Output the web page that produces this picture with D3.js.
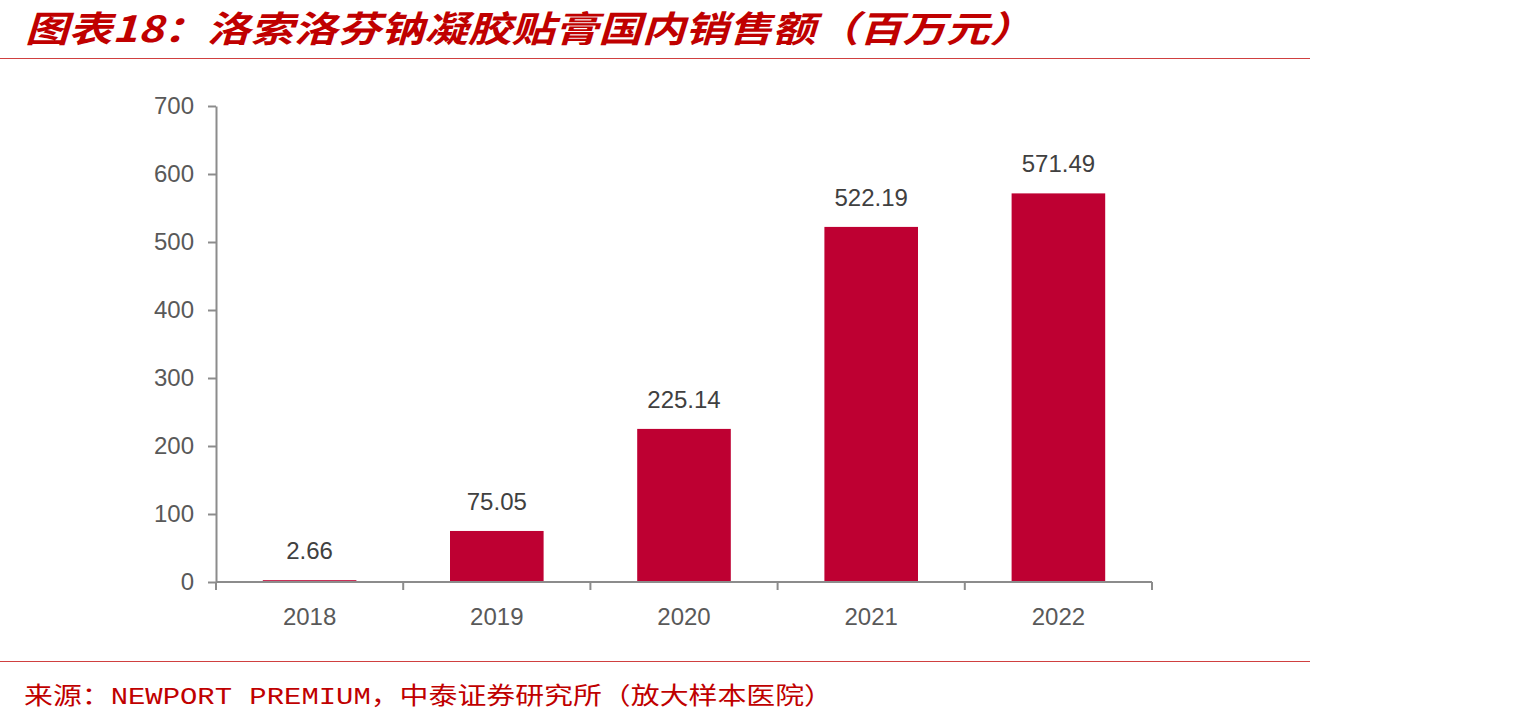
<!DOCTYPE html>
<html><head><meta charset="utf-8">
<script src="https://cdn.jsdelivr.net/npm/d3@7"></script>
<style>body{margin:0;background:#fff;} svg{display:block;}</style>
</head><body>
<svg id="c" width="1535" height="726"></svg>
<script>
const categories = ["2018","2019","2020","2021","2022"];
const values = [2.66, 75.05, 225.14, 522.19, 571.49];
const valueLabels = ["2.66","75.05","225.14","522.19","571.49"];
const yTicks = [0,100,200,300,400,500,600,700];
const titleText = "图表18：洛索洛芬钠凝胶贴膏国内销售额（百万元）";
const sourceText = "来源：NEWPORT PREMIUM，中泰证券研究所（放大样本医院）";

const svg = d3.select("#c");
const red = "#C00000";
const barColor = "#BE0032";
const axisColor = "#8C8C8C";
const numFont = "'Liberation Sans', Arial, sans-serif";
const cjkFont = "'Noto Sans CJK SC', sans-serif";

// Title
svg.append("text").attr("x", 25).attr("y", 42)
  .attr("font-family", cjkFont).attr("font-size", 36).attr("font-weight", "bold")
  .attr("font-style", "italic").attr("fill", red)
  .attr("textLength", 1008).attr("lengthAdjust", "spacingAndGlyphs")
  .text(titleText);
svg.append("line").attr("x1", 0).attr("x2", 1310).attr("y1", 58.5).attr("y2", 58.5)
  .attr("stroke", "#D04040").attr("stroke-width", 1.2);
svg.append("line").attr("x1", 0).attr("x2", 1310).attr("y1", 661.5).attr("y2", 661.5)
  .attr("stroke", "#D04040").attr("stroke-width", 1.2);
svg.append("text").attr("x", 24).attr("y", 704)
  .attr("font-family", "'Liberation Mono', " + cjkFont).attr("font-size", 24).attr("fill", red)
  .attr("textLength", 809).attr("lengthAdjust", "spacingAndGlyphs")
  .text(sourceText);

const x = d3.scaleBand().domain(categories).range([216, 1152]).paddingInner(0.5).paddingOuter(0.25);
const y = d3.scaleLinear().domain([0, 700]).range([582, 106]);

// Y axis
const yAxis = svg.append("g").attr("transform", "translate(216,0)")
  .call(d3.axisLeft(y).tickValues(yTicks).tickSize(8).tickPadding(14).tickSizeOuter(0));
yAxis.select(".domain").attr("stroke", axisColor).attr("stroke-width", 2);
yAxis.selectAll(".tick line").attr("stroke", axisColor).attr("stroke-width", 2);
yAxis.selectAll(".tick text").attr("font-family", numFont).attr("font-size", 24).attr("fill", "#595959");

// X axis
const xBoundaries = d3.range(categories.length + 1).map(i => 216 + i * (1152 - 216) / categories.length);
const xAxisG = svg.append("g");
xAxisG.append("line").attr("x1", 216).attr("x2", 1152).attr("y1", y(0)).attr("y2", y(0))
  .attr("stroke", axisColor).attr("stroke-width", 2);
xAxisG.selectAll("line.t").data(xBoundaries).enter().append("line")
  .attr("x1", d => d).attr("x2", d => d).attr("y1", y(0)).attr("y2", y(0) + 8)
  .attr("stroke", axisColor).attr("stroke-width", 2);
xAxisG.selectAll("text").data(categories).enter().append("text")
  .attr("x", d => x(d) + x.bandwidth() / 2).attr("y", 625)
  .attr("text-anchor", "middle").attr("font-family", numFont).attr("font-size", 24).attr("fill", "#595959")
  .text(d => d);

// Bars
svg.selectAll("rect.bar").data(values).enter().append("rect")
  .attr("x", (d, i) => x(categories[i])).attr("width", x.bandwidth())
  .attr("y", d => y(d)).attr("height", d => y(0) - y(d) - 1)
  .attr("fill", barColor);

// Labels
svg.selectAll("text.lbl").data(values).enter().append("text")
  .attr("x", (d, i) => x(categories[i]) + x.bandwidth() / 2)
  .attr("y", d => y(d) - 21)
  .attr("text-anchor", "middle").attr("font-family", numFont).attr("font-size", 24).attr("fill", "#404040")
  .text((d, i) => valueLabels[i]);
</script>
</body></html>
